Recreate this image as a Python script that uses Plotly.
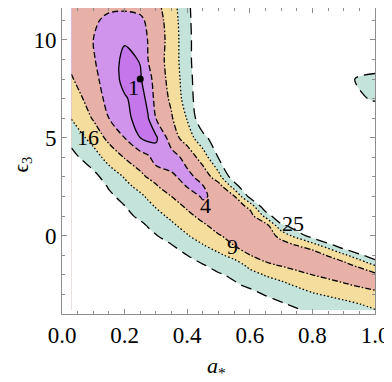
import numpy as np
import plotly.graph_objects as go

# grid coordinates (a_*, epsilon_3)
a_vals = [0.03, 0.1, 0.15, 0.2, 0.25, 0.275, 0.3, 0.35, 0.4, 0.45, 0.5, 0.55, 0.6, 0.65, 0.7, 0.8, 0.9, 1.0]
eps_vals = [-3.8, -3.5, -3, -2.5, -2, -1.5, -1, -0.5, 0, 0.5, 1, 1.5, 2, 2.5, 3, 4, 5, 6, 7, 8, 9, 10, 11, 11.8]

# chi-square values (rows follow eps_vals, columns follow a_vals)
chi2 = [
    [40, 40, 40, 40, 40, 40, 40, 40, 40, 40, 39, 36, 33, 30.5, 28, 23.5, 21.5, 16.3],
    [40, 40, 40, 40, 40, 40, 40, 40, 40, 40, 37, 34, 31, 28.5, 26, 21, 18.5, 14],
    [40, 40, 40, 40, 40, 40, 40, 40, 40, 37, 34, 30, 27.5, 24.5, 22, 17, 13, 10.5],
    [40, 40, 40, 40, 40, 40, 40, 39, 36.5, 34, 30, 26, 23.5, 20, 18, 12, 9.5, 7.2],
    [40, 40, 40, 40, 40, 40, 38, 36, 33, 30, 26, 23.5, 19, 15.5, 13, 9, 7, 7.5],
    [40, 40, 40, 40, 39, 37, 35, 32.5, 29, 25.5, 22, 20, 14, 10, 8.6, 6.5, 6.8, 16.5],
    [40, 40, 40, 40, 36, 34, 32, 29, 25, 20.5, 17.5, 13.5, 9.1, 7.2, 6.2, 6, 14, 33],
    [40, 40, 40, 38, 33, 31, 29, 25.5, 20.5, 16.5, 12.6, 9, 7.2, 5.9, 6.5, 12, 32, 40],
    [40, 40, 40, 35, 30, 27.5, 25.5, 21, 16.5, 12.5, 9.4, 7.5, 6, 5.8, 11, 30, 40, 40],
    [40, 40, 37, 31, 27.5, 24.5, 22, 17.5, 13.5, 10, 7.2, 5.2, 5.5, 6.2, 22, 40, 40, 40],
    [40, 40, 34, 28, 23, 20.5, 18.5, 14.5, 10.5, 7.5, 6, 5.2, 6.5, 18, 38, 40, 40, 40],
    [40, 40, 31, 25.3, 20, 17.8, 15.5, 11.5, 8.2, 4.85, 4.6, 6, 10.5, 34, 40, 40, 40, 40],
    [40, 37, 27.5, 21.5, 17.5, 15, 12.5, 9, 6, 3.6, 5, 8.4, 28, 40, 40, 40, 40, 40],
    [40, 33, 24, 18.3, 14, 12.7, 9.6, 6.5, 3.9, 3.8, 6.3, 19, 40, 40, 40, 40, 40, 40],
    [34, 28, 21, 15.5, 10.5, 8.5, 7.5, 4.6, 3, 5.5, 13, 32, 40, 40, 40, 40, 40, 40],
    [28, 20, 13, 8.7, 6, 4.8, 2.2, 2.5, 5.5, 12, 25.5, 35, 40, 40, 40, 40, 40, 40],
    [22, 13, 7.5, 4, 1, 0.5, 0.7, 6.5, 12, 22, 32, 40, 40, 40, 40, 40, 40, 40],
    [15.7, 8.5, 4, 1.5, 0.5, 0.9, 4, 8.5, 16.5, 34, 40, 40, 40, 40, 40, 40, 40, 40],
    [13, 6, 3, 1.2, 0.4, 1.5, 5.5, 10, 20, 34, 40, 40, 40, 40, 40, 40, 32, 23],
    [9.5, 5, 2.5, 0.5, 0.8, 2.5, 6, 11, 21, 34, 40, 40, 40, 40, 40, 40, 28, 20],
    [7.5, 4.3, 2.2, 0.6, 1.1, 4, 6.5, 11.5, 22, 34, 40, 40, 40, 40, 40, 40, 40, 40],
    [6.5, 4.0, 3, 1.2, 2.8, 4.1, 6, 11.5, 22, 34, 40, 40, 40, 40, 40, 40, 40, 40],
    [7.5, 4.6, 3.2, 3.0, 3.4, 4.6, 6.5, 12, 22.5, 34, 40, 40, 40, 40, 40, 40, 40, 40],
    [8, 6, 5, 4.8, 5.2, 6.3, 7.5, 13, 23, 34, 40, 40, 40, 40, 40, 40, 40, 40],
]

levels = [1, 4, 9, 16, 25]
level_dash = ["solid", "6px,3px", "6px,2px,1.5px,2px", "1.5px,2.2px", "11px,6px"]
band_colors = ["#c476ea", "#d194ed", "#e8b1a7", "#f5de9d", "#c4e3db", "#ffffff"]

label_text = ["1", "4", "9", "16", "25"]
label_a = [0.227, 0.457, 0.546, 0.083, 0.738]
label_eps = [7.55, 1.53, -0.56, 5.0, 0.61]

best_a = [0.25]
best_eps = [8.0]

x_ticks = [0.0, 0.2, 0.4, 0.6, 0.8, 1.0]
y_ticks = [0, 5, 10]

# square-root scale makes the levels 1,4,9,16,25 equally spaced (1..5)
zs = np.sqrt(np.array(chi2, dtype=float))
SMOOTH = 0.9
FONT = "Liberation Serif"

fig = go.Figure()
fig.add_trace(go.Contour(
    x=a_vals, y=eps_vals, z=zs, autocontour=False,
    contours=dict(start=1, end=5, size=1, coloring="fill", showlines=False),
    colorscale=[[i / 5, c] for i, c in enumerate(band_colors)],
    showscale=False, line=dict(width=0, smoothing=SMOOTH), hoverinfo="skip",
))
for lev, dash in zip(levels, level_dash):
    s = float(np.sqrt(lev))
    fig.add_trace(go.Contour(
        x=a_vals, y=eps_vals, z=zs, autocontour=False,
        contours=dict(start=s, end=s + 0.5, size=1, coloring="none"),
        line=dict(color="black", width=1.3, dash=dash, smoothing=SMOOTH),
        showscale=False, hoverinfo="skip",
    ))
fig.add_trace(go.Scatter(x=best_a, y=best_eps, mode="markers",
                         marker=dict(color="black", size=7), hoverinfo="skip"))

for t, xa, ye in zip(label_text, label_a, label_eps):
    fig.add_annotation(x=xa, y=ye, xref="x", yref="y", text=t, showarrow=False,
                       font=dict(family=FONT, size=22, color="black"))

fig.add_annotation(x=0.495, y=-0.172, xref="paper", yref="paper",
                   xanchor="center", yanchor="middle",
                   text="<i>a</i><sub>*</sub>", showarrow=False,
                   font=dict(family=FONT, size=22, color="black"))
fig.add_annotation(x=-0.129, y=0.487, xref="paper", yref="paper",
                   xanchor="center", yanchor="middle",
                   text="ϵ<sub>3</sub>", textangle=-90, showarrow=False,
                   font=dict(family=FONT, size=21, color="black"))

axis_common = dict(ticks="inside", ticklen=5, tickcolor="#8c8c8c", tickwidth=1,
                   showline=True, linecolor="#8c8c8c", linewidth=1, mirror="ticks",
                   showgrid=False, zeroline=False, automargin=False,
                   tickfont=dict(family=FONT, size=23, color="black"))
fig.update_xaxes(range=[0, 1], tickvals=x_ticks, tickformat=".1f",
                 minor=dict(dtick=0.05, ticks="inside", ticklen=3, tickcolor="#8c8c8c"),
                 **axis_common)
fig.update_yaxes(range=[-4, 11.63], tickvals=y_ticks,
                 minor=dict(dtick=1, ticks="inside", ticklen=3, tickcolor="#8c8c8c"),
                 **axis_common)
# the page body adds an 8px offset; sizes and margins compensate for it
fig.update_layout(width=384, height=374, margin=dict(l=54, r=17, t=0, b=68),
                  plot_bgcolor="white", paper_bgcolor="white", showlegend=False)
fig.write_html("out.html")
